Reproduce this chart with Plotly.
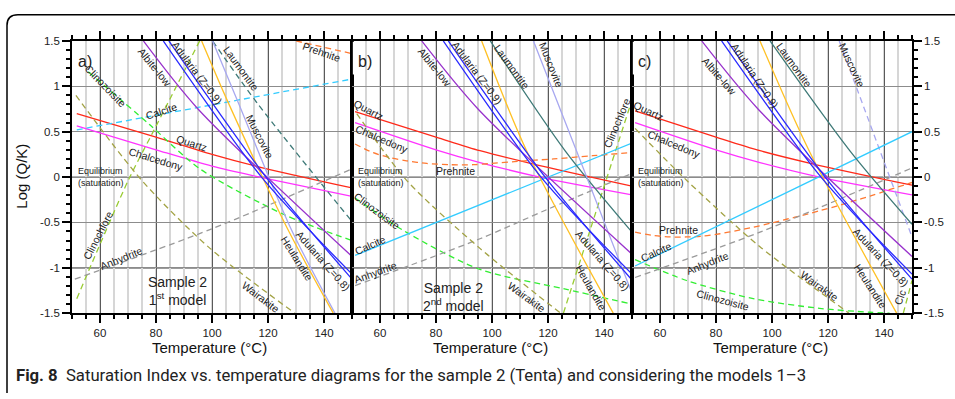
import plotly.graph_objects as go

# ---------------- data ----------------
# Panel a) Sample 2, 1st model
a_quartz_t = [51.7, 80, 100, 117, 150]
a_quartz_y = [0.70, 0.44, 0.25, 0.11, -0.12]
a_chalcedony_t = [51.7, 80, 100, 117, 150]
a_chalcedony_y = [0.565, 0.30, 0.12, 0.0, -0.214]
a_albite_t = [75.5, 95, 150]
a_albite_y = [1.5, 0.75, -0.875]
a_adularia9_t = [82.6, 117.7, 150]
a_adularia9_y = [1.5, 0.0, -1.07]
a_adularia8_t = [84.6, 119.3, 150]
a_adularia8_y = [1.5, 0.0, -1.125]
a_heulandite_t = [96.3, 105.8, 126.7, 143.3]
a_heulandite_y = [1.5, 0.82, -0.553, -1.5]
a_muscovite_t = [100.2, 109.4, 127.9, 143.9]
a_muscovite_y = [1.5, 0.82, -0.55, -1.5]
a_laumontite_t = [100.2, 116.5, 150]
a_laumontite_y = [1.5, 0.80, -0.49]
a_calcite_t = [51.7, 150]
a_calcite_y = [0.52, 1.08]
a_prehnite_t = [130, 150]
a_prehnite_y = [1.5, 1.36]
a_clinozoisite_t = [55.8, 78, 95.7, 125.5, 150]
a_clinozoisite_y = [1.16, 0.57, 0.09, -0.41, -0.70]
a_clinochlore_t = [51.7, 70.1, 79, 95.6]
a_clinochlore_y = [-1.34, -0.036, 0.5, 1.5]
a_wairakite_t = [51.4, 74.9, 99.3, 129.6]
a_wairakite_y = [0.90, -0.036, -0.786, -1.5]
a_anhydrite_t = [51.0, 100, 150]
a_anhydrite_y = [-1.125, -0.57, 0.09]

# Panel b) Sample 2, 2nd model
b_quartz_t = [51.1, 80, 95.7, 114.8, 150]
b_quartz_y = [0.72, 0.44, 0.29, 0.143, -0.10]
b_chalcedony_t = [51.1, 80, 95.7, 117, 150]
b_chalcedony_y = [0.60, 0.30, 0.16, 0.0, -0.196]
b_albite_t = [74.9, 95, 150]
b_albite_y = [1.5, 0.75, -0.85]
b_adularia9_t = [82.6, 117.5, 150]
b_adularia9_y = [1.5, 0.0, -1.07]
b_adularia8_t = [84.4, 119, 150]
b_adularia8_y = [1.5, 0.0, -1.135]
b_heulandite_t = [96.3, 112.4, 143.3]
b_heulandite_y = [1.5, 0.286, -1.5]
b_laumontite_t = [99.4, 126.2, 150]
b_laumontite_y = [1.5, 0.286, -0.607]
b_muscovite_t = [114.8, 130.2, 146.9, 150]
b_muscovite_y = [1.5, 0.286, -1.036, -1.28]
b_prehnite_t = [51.1, 57.6, 63.6, 69.5, 76.7, 85, 93.3, 100, 108, 122, 136, 150]
b_prehnite_y = [0.364, 0.268, 0.214, 0.179, 0.15, 0.136, 0.136, 0.15, 0.17, 0.2, 0.235, 0.27]
b_calcite_t = [51.1, 150]
b_calcite_y = [-0.864, 0.375]
b_clinozoisite_t = [51.1, 69.5, 95.7, 125.5, 150]
b_clinozoisite_y = [-0.23, -0.61, -1.018, -1.23, -1.40]
b_anhydrite_t = [51.1, 95.7, 119.5, 150]
b_anhydrite_y = [-1.196, -0.68, -0.36, 0.04]
b_clinochlore_t = [125.5, 144.1, 150]
b_clinochlore_y = [-1.5, 0.286, 0.85]
b_wairakite_t = [51.7, 69.5, 95.7, 124.5]
b_wairakite_y = [0.70, -0.036, -0.786, -1.5]

# Panel c) 3rd model
c_quartz_t = [51.1, 80, 95.7, 114.8, 150]
c_quartz_y = [0.73, 0.44, 0.29, 0.143, -0.09]
c_chalcedony_t = [51.1, 80, 95.7, 117, 150]
c_chalcedony_y = [0.60, 0.30, 0.16, 0.0, -0.196]
c_albite_t = [74.9, 95, 150]
c_albite_y = [1.5, 0.75, -0.875]
c_adularia9_t = [82, 117.5, 150]
c_adularia9_y = [1.5, 0.0, -1.07]
c_adularia8_t = [84, 119, 150]
c_adularia8_y = [1.5, 0.0, -1.125]
c_heulandite_t = [95.7, 113.3, 144.5]
c_heulandite_y = [1.5, 0.286, -1.5]
c_laumontite_t = [99.3, 127.9, 150]
c_laumontite_y = [1.5, 0.286, -0.52]
c_muscovite_t = [124, 138.6, 150]
c_muscovite_y = [1.5, 0.286, -0.66]
c_calcite_t = [51.1, 150]
c_calcite_y = [-0.98, 0.5]
c_prehnite_t = [51.1, 57.6, 63.6, 69.5, 75.5, 81.4, 87.4, 93.3, 99.3, 105.2, 111.2, 117.1, 123.1, 129, 135, 140.9, 150]
c_prehnite_y = [-0.607, -0.643, -0.66, -0.66, -0.65, -0.625, -0.59, -0.553, -0.51, -0.465, -0.42, -0.37, -0.32, -0.265, -0.21, -0.15, -0.06]
c_anhydrite_t = [51.1, 95.7, 150]
c_anhydrite_y = [-1.107, -0.607, 0.10]
c_wairakite_t = [51.1, 69.5, 95.7, 127.5]
c_wairakite_y = [0.536, -0.036, -0.768, -1.5]
c_clinozoisite_t = [51.1, 69.5, 93.3, 117, 135, 142]
c_clinozoisite_y = [-0.91, -1.14, -1.34, -1.447, -1.49, -1.5]
c_clinochlore_t = [146.9, 150]
c_clinochlore_y = [-1.5, -1.14]

# tick labels
x_tickvals = [60, 80, 100, 120, 140]
y_tickvals = [-1.5, -1, -0.5, 0, 0.5, 1, 1.5]
y_ticktext = ["-1.5", "-1", "-0.5", "0", "0.5", "1", "1.5"]

# ---------------- styles ----------------
COLORS = {
    "quartz": "#ff2a1a", "chalcedony": "#ff33ff", "albite": "#9933cc",
    "adularia9": "#2a2aff", "adularia8": "#2a2aff", "heulandite": "#ffc125",
    "muscovite": "#a8a8f0", "laumontite": "#3f7a78", "calcite": "#33ccff",
    "prehnite": "#ff7a33", "clinozoisite": "#33ee33", "clinochlore": "#99cc33",
    "wairakite": "#a3a345", "anhydrite": "#9a9a9a",
}

panels = [
    ("x", "y", [
        ("quartz", a_quartz_t, a_quartz_y, False),
        ("chalcedony", a_chalcedony_t, a_chalcedony_y, False),
        ("calcite", a_calcite_t, a_calcite_y, True),
        ("prehnite", a_prehnite_t, a_prehnite_y, True),
        ("clinozoisite", a_clinozoisite_t, a_clinozoisite_y, True),
        ("clinochlore", a_clinochlore_t, a_clinochlore_y, True),
        ("wairakite", a_wairakite_t, a_wairakite_y, True),
        ("anhydrite", a_anhydrite_t, a_anhydrite_y, True),
        ("laumontite", a_laumontite_t, a_laumontite_y, True),
        ("muscovite", a_muscovite_t, a_muscovite_y, False),
        ("heulandite", a_heulandite_t, a_heulandite_y, False),
        ("albite", a_albite_t, a_albite_y, False),
        ("adularia9", a_adularia9_t, a_adularia9_y, False),
        ("adularia8", a_adularia8_t, a_adularia8_y, False),
    ]),
    ("x2", "y2", [
        ("quartz", b_quartz_t, b_quartz_y, False),
        ("chalcedony", b_chalcedony_t, b_chalcedony_y, False),
        ("prehnite", b_prehnite_t, b_prehnite_y, True),
        ("clinozoisite", b_clinozoisite_t, b_clinozoisite_y, True),
        ("anhydrite", b_anhydrite_t, b_anhydrite_y, True),
        ("clinochlore", b_clinochlore_t, b_clinochlore_y, True),
        ("wairakite", b_wairakite_t, b_wairakite_y, True),
        ("calcite", b_calcite_t, b_calcite_y, False),
        ("laumontite", b_laumontite_t, b_laumontite_y, False),
        ("muscovite", b_muscovite_t, b_muscovite_y, False),
        ("heulandite", b_heulandite_t, b_heulandite_y, False),
        ("albite", b_albite_t, b_albite_y, False),
        ("adularia9", b_adularia9_t, b_adularia9_y, False),
        ("adularia8", b_adularia8_t, b_adularia8_y, False),
    ]),
    ("x3", "y3", [
        ("quartz", c_quartz_t, c_quartz_y, False),
        ("chalcedony", c_chalcedony_t, c_chalcedony_y, False),
        ("prehnite", c_prehnite_t, c_prehnite_y, True),
        ("clinozoisite", c_clinozoisite_t, c_clinozoisite_y, True),
        ("anhydrite", c_anhydrite_t, c_anhydrite_y, True),
        ("clinochlore", c_clinochlore_t, c_clinochlore_y, True),
        ("wairakite", c_wairakite_t, c_wairakite_y, True),
        ("muscovite", c_muscovite_t, c_muscovite_y, True),
        ("calcite", c_calcite_t, c_calcite_y, False),
        ("laumontite", c_laumontite_t, c_laumontite_y, False),
        ("heulandite", c_heulandite_t, c_heulandite_y, False),
        ("albite", c_albite_t, c_albite_y, False),
        ("adularia9", c_adularia9_t, c_adularia9_y, False),
        ("adularia8", c_adularia8_t, c_adularia8_y, False),
    ]),
]

fig = go.Figure()
for xr, yr, series in panels:
    for name, t, v, dashed in series:
        fig.add_trace(go.Scatter(
            x=t, y=v, xaxis=xr, yaxis=yr, mode="lines", name=name,
            showlegend=False, hoverinfo="skip",
            line=dict(color=COLORS[name], width=1.3,
                      dash="6px,4px" if dashed else "solid",
                      shape="spline" if len(t) > 2 else "linear", smoothing=0.8),
        ))

# ---------------- labels (text, axis, T, logQK, angle, size) ----------------
LBL = 10.5
labels = [
    # panel a
    ("Clinozoisite", 1, 62.1, 1.007, 46, LBL),
    ("Albite-low", 1, 79.6, 1.215, 51, LBL),
    ("Adularia (Z=0.9)", 1, 94.75, 1.143, 53, LBL),
    ("Laumontite", 1, 110.25, 1.197, 54, LBL),
    ("Prehnite", 1, 139.2, 1.376, 19, LBL),
    ("Calcite", 1, 81.9, 0.733, -18, LBL),
    ("Muscovite", 1, 116.9, 0.447, 63, LBL),
    ("Quartz", 1, 92.75, 0.375, 18, LBL),
    ("Chalcedony", 1, 80.0, 0.197, 17, LBL),
    ("Clinochlore", 1, 59.4, -0.643, -63, LBL),
    ("Anhydrite", 1, 67.75, -0.893, -22, LBL),
    ("Wairakite", 1, 117.4, -1.321, 37, LBL),
    ("Heulandite", 1, 130.25, -0.893, 58, LBL),
    ("Adularia (Z=0.8)", 1, 139.75, -0.928, 48.5, LBL),
    # panel b
    ("Albite-low", 2, 79.6, 1.215, 51, LBL),
    ("Adularia (Z=0.9)", 2, 94.75, 1.143, 53, LBL),
    ("Laumontite", 2, 107.25, 1.215, 54, LBL),
    ("Muscovite", 2, 121.3, 1.24, 68, LBL),
    ("Quartz", 2, 56.1, 0.744, 28, LBL),
    ("Chalcedony", 2, 60.8, 0.422, 23, LBL),
    ("Prehnite", 2, 86.8, 0.064, 0, LBL),
    ("Clinochlore", 2, 144.5, 0.60, -67, LBL),
    ("Clinozoisite", 2, 59.0, -0.375, 36.5, LBL),
    ("Calcite", 2, 56.4, -0.75, -24, LBL),
    ("Anhydrite", 2, 58.5, -1.043, -20, LBL),
    ("Wairakite", 2, 112.4, -1.321, 36, LBL),
    ("Adularia (Z=0.8)", 2, 139.75, -0.921, 49, LBL),
    ("Heulandite", 2, 135.25, -1.214, 60, LBL),
    # panel c
    ("Albite-low", 3, 81.1, 1.108, 49, LBL),
    ("Adularia (Z=0.9)", 3, 94.0, 1.114, 56, LBL),
    ("Laumontite", 3, 107.9, 1.232, 54, LBL),
    ("Muscovite", 3, 128.5, 1.232, 65, LBL),
    ("Quartz", 3, 56.1, 0.733, 25, LBL),
    ("Chalcedony", 3, 65.0, 0.364, 22.7, LBL),
    ("Prehnite", 3, 66.5, -0.589, 0, LBL),
    ("Calcite", 3, 58.5, -0.828, -25, LBL),
    ("Anhydrite", 3, 76.9, -0.946, -22, LBL),
    ("Wairakite", 3, 117.1, -1.196, 36, LBL),
    ("Clinozoisite", 3, 82.6, -1.35, 15, LBL),
    ("Adularia (Z=0.8)", 3, 138.8, -0.885, 47, LBL),
    ("Heulandite", 3, 135.25, -1.196, 57, LBL),
    ("Clc", 3, 145.7, -1.321, -70, LBL),
]
FONT = "Liberation Sans, Arial, sans-serif"
TXT = "#222222"


def ax(i):
    return ("x", "y") if i == 1 else ("x%d" % i, "y%d" % i)


annotations = []
for text, i, t, v, ang, sz in labels:
    xr, yr = ax(i)
    annotations.append(dict(text=text, x=t, y=v, xref=xr, yref=yr, textangle=ang,
                            xanchor="center", yanchor="middle",
                            showarrow=False, font=dict(family=FONT, size=sz, color=TXT)))

for i, tag in [(1, "a)"), (2, "b)"), (3, "c)")]:
    xr, yr = ax(i)
    annotations.append(dict(text=tag, x=51.3, y=1.27, xref=xr, yref=yr, xanchor="left", yanchor="middle",
                            showarrow=False, font=dict(family=FONT, size=16, color=TXT)))
    annotations.append(dict(text="Equilibrium", x=51.4, y=0.07, xref=xr, yref=yr, xanchor="left",
                            yanchor="middle",
                            showarrow=False, font=dict(family=FONT, size=9, color=TXT)))
    annotations.append(dict(text="(saturation)", x=51.4, y=-0.065, xref=xr, yref=yr, xanchor="left",
                            yanchor="middle",
                            showarrow=False, font=dict(family=FONT, size=9, color=TXT)))

annotations.append(dict(text="Sample 2<br>1<sup>st</sup> model", x=87.75, y=-1.26, xref="x", yref="y",
                        xanchor="center", yanchor="middle",
                        showarrow=False, font=dict(family=FONT, size=14, color=TXT)))
annotations.append(dict(text="Sample 2<br>2<sup>nd</sup> model", x=86.2, y=-1.32, xref="x2", yref="y2",
                        xanchor="center", yanchor="middle",
                        showarrow=False, font=dict(family=FONT, size=14, color=TXT)))

W, H = 955, 399
for cx in [209, 490, 770]:
    annotations.append(dict(text="Temperature (°C)", x=cx / W, y=1 - 352 / H, xref="paper", yref="paper",
                            xanchor="center", yanchor="middle",
                            showarrow=False, font=dict(family=FONT, size=15, color="#111")))
annotations.append(dict(text="Log (Q/K)", x=22 / W, y=1 - 176 / H, xref="paper", yref="paper",
                        xanchor="center", yanchor="middle",
                        textangle=-90, showarrow=False, font=dict(family=FONT, size=15, color="#111")))
annotations.append(dict(text="<b>Fig. 8</b>  Saturation Index vs. temperature diagrams for the sample 2 (Tenta) and considering the models 1–3",
                        x=14 / W, y=1 - 381 / H, xref="paper", yref="paper", xanchor="left", yanchor="middle",
                        showarrow=False, font=dict(family="Roboto, sans-serif", size=16.7, color="#222")))

# ---------------- axes ----------------
left, width = 72, 280
top_px, bot_px = 36, 316.7
ydom = [1 - bot_px / H, 1 - top_px / H]
tickfont = dict(family=FONT, size=11.5, color=TXT)


def xaxis(k, anchor):
    d0 = (left + k * width) / W
    d1 = (left + (k + 1) * width) / W
    return dict(domain=[d0, d1], range=[50, 150], anchor=anchor, tickmode="array",
                tickvals=x_tickvals, ticks="outside", ticklen=8, tickwidth=1.5, tickcolor="black",
                showline=True, linecolor="black", linewidth=1.6, mirror="ticks",
                showgrid=True, gridcolor="#5a5a5a", gridwidth=1.2, zeroline=False,
                tickfont=tickfont, fixedrange=True,
                minor=dict(tick0=50, dtick=5, ticks="outside", ticklen=4.5, tickwidth=1.5,
                           tickcolor="black", showgrid=True, gridcolor="#d6d6d6", gridwidth=2))


def yaxis(anchor, mode):
    d = dict(domain=ydom, range=[-1.5, 1.5], anchor=anchor, tickmode="array",
             tickvals=y_tickvals, ticktext=y_ticktext, showline=True, linecolor="black",
             linewidth=1.6, mirror=True, showgrid=True, gridcolor="#8c8c8c", gridwidth=1,
             zeroline=False, tickfont=tickfont, fixedrange=True)
    if mode == "none":
        d.update(ticks="", showticklabels=False)
    else:
        d.update(ticks="outside", ticklen=8, tickwidth=1.5, tickcolor="black", side=mode,
                 minor=dict(tick0=-1.5, dtick=0.1, ticks="outside", ticklen=4.5, tickwidth=1.5,
                            tickcolor="black", showgrid=False))
    return d


shapes = []
for i in (1, 2, 3):
    xr, yr = ax(i)
    shapes.append(dict(type="rect", xref=xr, yref=yr, x0=50.3, x1=71, y0=1.13, y1=1.49,
                       fillcolor="white", line=dict(width=0), layer="below"))
    shapes.append(dict(type="line", xref=xr, yref=yr, x0=60, x1=60, y0=1.13, y1=1.5,
                       line=dict(color="#5a5a5a", width=1.2), layer="below"))
    shapes.append(dict(type="line", xref=xr, yref=yr, x0=50, x1=150, y0=-1, y1=-1,
                       line=dict(color="#3a3a3a", width=1.2), layer="below"))
    shapes.append(dict(type="line", xref=xr, yref=yr, x0=50, x1=150, y0=0, y1=0,
                       line=dict(color="#666666", width=1.1), layer="below"))

# rounded frame (top and left edges)
shapes.append(dict(type="path", xref="paper", yref="paper",
                   path="M 1.0,%f L %f,%f Q %f,%f %f,%f L %f,0" % (
                       1 - 9 / H, 18 / W, 1 - 9 / H, 7 / W, 1 - 9 / H, 7 / W, 1 - 20 / H, 7 / W),
                   line=dict(color="black", width=1.5)))

fig.update_layout(
    width=W, height=H, autosize=False,
    margin=dict(l=0, r=0, t=0, b=0),
    paper_bgcolor="white", plot_bgcolor="white",
    xaxis=xaxis(0, "y"), xaxis2=xaxis(1, "y2"), xaxis3=xaxis(2, "y3"),
    yaxis=yaxis("x", "left"), yaxis2=yaxis("x2", "none"), yaxis3=yaxis("x3", "right"),
    annotations=annotations, shapes=shapes, showlegend=False,
)

fig.write_html("out.html", config={"displayModeBar": False},
               post_script="document.body.style.margin='0';document.body.style.overflow='hidden';")
